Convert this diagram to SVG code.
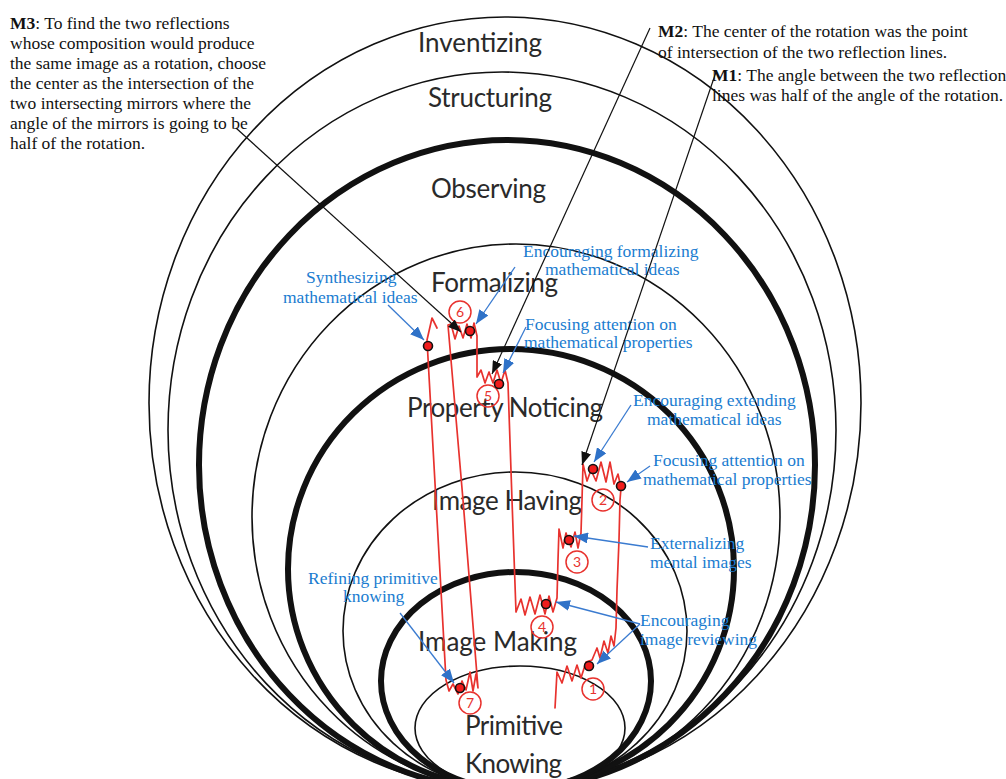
<svg xmlns="http://www.w3.org/2000/svg" width="1006" height="779" viewBox="0 0 1006 779">
<defs>
<style>
.ring{fill:none;stroke:#111}
.thin{stroke-width:1.6}
.thick{stroke-width:6}
.stage{font-family:Lato,"Open Sans",sans-serif;font-size:26px;fill:#2a2a2a}
.note{font-family:"Liberation Serif",serif;font-size:17.5px;fill:#111}
.blue{font-family:"Liberation Serif",serif;font-size:17.5px;fill:#1a7cd0}
.cb{stroke:#111;stroke-width:1.2;fill:none}
.cu{stroke:#3a7bd0;stroke-width:1.3;fill:none}
.red{stroke:#e8322e;stroke-width:1.7;fill:none;stroke-linejoin:round;stroke-linecap:round}
.dot{fill:#f01c1c;stroke:#111;stroke-width:1.6}
.num circle{fill:none;stroke:#e8322e;stroke-width:1.5}
.num text{font-family:Lato,"Open Sans",sans-serif;font-size:14px;fill:#e8322e;text-anchor:middle}
</style>
<marker id="ab" markerUnits="userSpaceOnUse" markerWidth="13" markerHeight="10" refX="13" refY="5" orient="auto"><path d="M0,0 L13,5 L0,10 z" fill="#111"/></marker>
<marker id="au" markerUnits="userSpaceOnUse" markerWidth="14" markerHeight="11" refX="14" refY="5.5" orient="auto"><path d="M0,0 L14,5.5 L0,11 z" fill="#2f72c8"/></marker>
</defs>
<rect width="1006" height="779" fill="#fff"/>

<g id="level-inventizing"><ellipse class="ring thin" cx="505" cy="403" rx="356" ry="386"/><text class="stage" x="418" y="52" textLength="124">Inventizing</text></g>
<g id="level-structuring"><ellipse class="ring thin" cx="502" cy="430" rx="334" ry="358"/><text class="stage" x="428" y="107" textLength="124">Structuring</text></g>
<g id="level-observing"><ellipse class="ring thick" cx="507" cy="465" rx="308" ry="325"/><text class="stage" x="431" y="198" textLength="115">Observing</text></g>
<g id="level-formalizing"><ellipse class="ring thin" cx="516" cy="517" rx="264" ry="273"/><text class="stage" x="431" y="292" textLength="127">Formalizing</text></g>
<g id="level-property-noticing"><ellipse class="ring thick" cx="511" cy="569" rx="223" ry="220"/><text class="stage" x="407" y="417" textLength="196">Property Noticing</text></g>
<g id="level-image-having"><ellipse class="ring thin" cx="515" cy="631" rx="172" ry="159"/><text class="stage" x="432" y="510" textLength="150">Image Having</text></g>
<g id="level-image-making"><ellipse class="ring thick" cx="516" cy="681" rx="135" ry="109"/><text class="stage" x="418" y="651" textLength="159">Image Making</text></g>
<g id="level-primitive-knowing"><ellipse class="ring thin" cx="520" cy="728" rx="105" ry="62"/><text class="stage" x="465" y="735" textLength="98">Primitive</text><text class="stage" x="465" y="773" textLength="97">Knowing</text></g>

<g id="note-m3" class="note">
<text x="10" y="29"><tspan font-weight="bold">M3</tspan>: To find the two reflections</text>
<text x="10" y="49">whose composition would produce</text>
<text x="10" y="69">the same image as a rotation, choose</text>
<text x="10" y="89">the center as the intersection of the</text>
<text x="10" y="109">two intersecting mirrors where the</text>
<text x="10" y="129">angle of the mirrors is going to be</text>
<text x="10" y="149">half of the rotation.</text>
</g>
<g id="note-m2" class="note">
<text x="658" y="37"><tspan font-weight="bold">M2</tspan>: The center of the rotation was the point</text>
<text x="658" y="58">of intersection of the two reflection lines.</text>
</g>
<g id="note-m1" class="note">
<text x="712" y="81"><tspan font-weight="bold">M1</tspan>: The angle between the two reflection</text>
<text x="712" y="101">lines was half of the angle of the rotation.</text>
</g>

<g id="label-synthesizing" class="blue"><text x="306" y="283">Synthesizing</text><text x="283" y="303">mathematical ideas</text></g>
<g id="label-encouraging-formalizing" class="blue"><text x="523" y="257">Encouraging formalizing</text><text x="545" y="275">mathematical ideas</text></g>
<g id="label-focusing-1" class="blue"><text x="525" y="330">Focusing attention on</text><text x="524" y="348">mathematical properties</text></g>
<g id="label-encouraging-extending" class="blue"><text x="633" y="406">Encouraging extending</text><text x="647" y="425">mathematical ideas</text></g>
<g id="label-focusing-2" class="blue"><text x="653" y="466">Focusing attention on</text><text x="643" y="485">mathematical properties</text></g>
<g id="label-externalizing" class="blue"><text x="650" y="549">Externalizing</text><text x="650" y="568">mental images</text></g>
<g id="label-encouraging-reviewing" class="blue"><text x="640" y="626">Encouraging</text><text x="640" y="645">image reviewing</text></g>
<g id="label-refining" class="blue"><text x="308" y="584">Refining primitive</text><text x="343" y="602">knowing</text></g>

<g id="growth-path">
<polyline class="red" points="555,708 556,690 557,672 562,683 567,666 572,681 577,665 581,678 586,662 592,660 597,648 600,658 604,641 608,653 611,636 614,646 616,628 617,590 619,540 620,500 621,488 618,474 614,484 610,462 606,482 601,462 596,481 591,470 587,481 583,464 582,500 581,533 578,548 575,532 571,547 566,533 563,548 559,529 558,560 557,598 553,612 549,596 545,614 540,595 535,614 530,597 525,615 521,599 516,612 512,500 508,383 505,370 501,383 497,370 493,383 489,372 485,383 481,370 477,377 477,336 474,323 471,338 467,324 463,338 459,326 455,339 451,324 448,325 463,500 478,688 476,674 473,691 470,672 466,690 462,681 458,694 453,684 449,691 446,680 427,340 432,318 437,328"/>
<g class="num"><circle cx="593" cy="689" r="11"/><text x="593" y="694">1</text></g>
<g class="num"><circle cx="603" cy="500" r="11"/><text x="603" y="505">2</text></g>
<g class="num"><circle cx="577" cy="562" r="11"/><text x="577" y="567">3</text></g>
<g class="num"><circle cx="542" cy="627" r="11"/><text x="542" y="632">4</text></g>
<g class="num"><circle cx="488" cy="396" r="11"/><text x="488" y="401">5</text></g>
<g class="num"><circle cx="460" cy="312" r="11"/><text x="460" y="317">6</text></g>
<g class="num"><circle cx="470" cy="703" r="11"/><text x="470" y="708">7</text></g>
<circle class="dot" cx="589" cy="666" r="4.5"/>
<circle class="dot" cx="593" cy="469" r="4.5"/>
<circle class="dot" cx="621" cy="486" r="4.5"/>
<circle class="dot" cx="569" cy="540" r="4.5"/>
<circle class="dot" cx="546" cy="604" r="4.5"/>
<circle class="dot" cx="499" cy="384" r="4.5"/>
<circle class="dot" cx="470" cy="331" r="4.5"/>
<circle class="dot" cx="460" cy="688" r="4.5"/>
<circle class="dot" cx="428" cy="346" r="4.5"/>
</g>

<g id="connectors">
<line class="cb" x1="236" y1="128" x2="461" y2="332" marker-end="url(#ab)"/>
<line class="cb" x1="650" y1="28" x2="492" y2="374" marker-end="url(#ab)"/>
<line class="cb" x1="716" y1="72" x2="582" y2="465" marker-end="url(#ab)"/>
<line class="cu" x1="388" y1="305" x2="424" y2="340" marker-end="url(#au)"/>
<line class="cu" x1="515" y1="267" x2="476" y2="324" marker-end="url(#au)"/>
<line class="cu" x1="526" y1="327" x2="503" y2="373" marker-end="url(#au)"/>
<line class="cu" x1="631" y1="405" x2="594" y2="462" marker-end="url(#au)"/>
<line class="cu" x1="650" y1="466" x2="627" y2="482" marker-end="url(#au)"/>
<line class="cu" x1="648" y1="547" x2="574" y2="536" marker-end="url(#au)"/>
<line class="cu" x1="640" y1="624" x2="556" y2="602" marker-end="url(#au)"/>
<line class="cu" x1="640" y1="624" x2="597" y2="664" marker-end="url(#au)"/>
<line class="cu" x1="400" y1="613" x2="454" y2="683" marker-end="url(#au)"/>
</g>
</svg>
